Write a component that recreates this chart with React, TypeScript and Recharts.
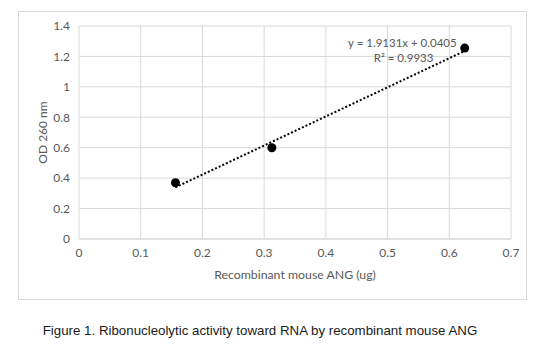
import { ComposedChart, Scatter, Line, XAxis, YAxis, CartesianGrid, ReferenceDot } from 'recharts'

const amounts = [0.15625, 0.3125, 0.625]
const od260 = [0.37, 0.6, 1.255]
const trendX = [0.156, 0.625]
const trendY = [0.339, 1.236]
const xTicks = [0, 0.1, 0.2, 0.3, 0.4, 0.5, 0.6, 0.7]
const yTicks = [0, 0.2, 0.4, 0.6, 0.8, 1, 1.2, 1.4]
const equation = 'y = 1.9131x + 0.0405'
const rSquared = 'R\u00b2 = 0.9933'

const points = amounts.map((x, i) => ({ x, y: od260[i] }))
const trend = trendX.map((x, i) => ({ x, t: trendY[i] }))

const axisFont = { fill: '#595959', fontSize: 12, fontFamily: 'Lato, "Open Sans", sans-serif' }

export default function App() {
  return (
    <div style={{ position: 'absolute', left: 0, top: 0, width: 551, height: 352, background: '#fff' }}>
      <div style={{
        position: 'absolute', left: 18, top: 11, width: 509, height: 289,
        border: '1px solid #d9d9d9', boxSizing: 'border-box',
      }} />
      <div style={{ position: 'absolute', left: 0, top: 0 }}>
        <ComposedChart width={551} height={352} margin={{ top: 26, right: 40, left: 7, bottom: 41 }}>
          <CartesianGrid stroke="#d9d9d9" />
          <XAxis type="number" dataKey="x" domain={[0, 0.7]} ticks={xTicks}
            tick={axisFont} tickLine={false} axisLine={{ stroke: '#d9d9d9' }} tickMargin={3} height={72}
            label={{ value: 'Recombinant mouse ANG (ug)', position: 'center', ...axisFont, fontSize: 12.3 }} />
          <YAxis type="number" domain={[0, 1.4]} ticks={yTicks} width={72}
            tick={axisFont} tickLine={false} axisLine={false} tickMargin={3}
            label={{ value: 'OD 260 nm', angle: -90, position: 'center', ...axisFont }} />
          <Line data={trend} dataKey="t" type="linear" stroke="#000" strokeWidth={2}
            strokeDasharray="2 2" dot={false} isAnimationActive={false} />
          <Scatter data={points} dataKey="y" fill="#000" isAnimationActive={false}
            shape={(p: any) => <circle cx={p.cx} cy={p.cy} r={4.5} fill="#000" />} />
          <ReferenceDot x={0.524} y={1.29} r={1} fill="none" stroke="none"
            label={{ value: equation, position: 'center', ...axisFont, fontSize: 11.5 }} />
          <ReferenceDot x={0.526} y={1.19} r={1} fill="none" stroke="none"
            label={{ value: rSquared, position: 'center', ...axisFont, fontSize: 11.5 }} />
        </ComposedChart>
      </div>
      <div style={{
        position: 'absolute', left: 0, width: 520, top: 323, textAlign: 'center',
        fontFamily: '"Liberation Sans", Arial, sans-serif', fontSize: 13.3, color: '#1a1a1a',
      }}>
        Figure 1. Ribonucleolytic activity toward RNA by recombinant mouse ANG
      </div>
    </div>
  )
}
